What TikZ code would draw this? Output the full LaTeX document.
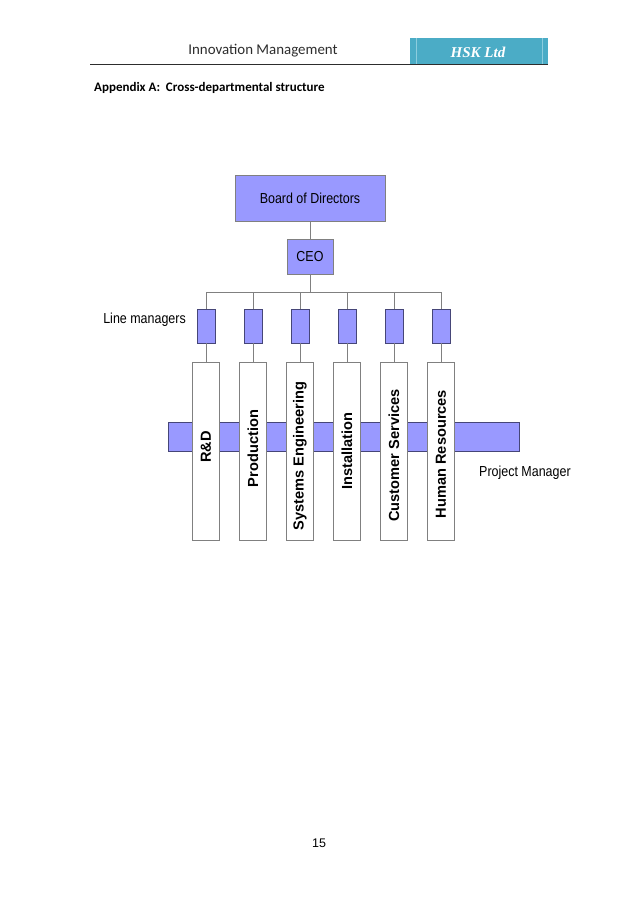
\documentclass[tikz,border=0pt]{standalone}
\usepackage{fontspec}
\setmainfont{Carlito}
\newfontfamily\visiofont[FakeStretch=0.86]{Liberation Sans}
\newfontfamily\deptfont{Liberation Sans}
\newfontfamily\firmfont{Liberation Serif}
\usetikzlibrary{positioning,calc}
\definecolor{VisioP} {RGB}{153,153,255}
\definecolor{EdgeG}  {RGB}{128,128,128}
\definecolor{EdgeB}  {RGB}{70,  70, 120}
\definecolor{TealH}  {RGB}{75, 172, 198}
\definecolor{TealL}  {RGB}{140,205, 222}
\definecolor{InkD}   {RGB}{45,  45,  45}

\begin{document}
\begin{tikzpicture}[x=1pt,y=-1pt,
    orgbox/.style={draw=EdgeG,fill=VisioP,line width=0.9pt,inner sep=0pt,
      font=\visiofont\fontsize{14.5}{16}\selectfont},
    mgrbox/.style={draw=EdgeB,fill=VisioP,line width=0.9pt,inner sep=0pt,
      minimum width=18pt,minimum height=34pt},
    deptbox/.style={draw=EdgeG,fill=white,line width=0.9pt,inner sep=0pt,
      minimum width=27pt,minimum height=178pt},
    deptlabel/.style={rotate=90,inner sep=0pt,
      font=\deptfont\bfseries\fontsize{14.6}{17}\selectfont},
    sidelabel/.style={inner sep=0pt,font=\visiofont\fontsize{14.5}{16}\selectfont},
    wire/.style={draw=EdgeG,line width=0.9pt}]
  \useasboundingbox[fill=white] (0,0) rectangle (638,903);
  % page header
  \fill[TealH] (410,38) rectangle (548,64);
  \draw[TealL,line width=0.5pt] (416,38)--(416,64) (542,38)--(542,64);
  \draw[InkD,line width=0.8pt] (90,64)--(548,64);
  \node[text=InkD,font=\fontsize{14.9}{17}\selectfont] (doctitle) at (263,51)
    {Innovation Management};
  \node[text=white,font=\firmfont\bfseries\itshape\fontsize{15}{17}\selectfont]
    (firm) at (478,52) {HSK Ltd};
  \node[anchor=west,inner sep=0pt,font=\bfseries\fontsize{13}{15}\selectfont]
    (appx) at (94,88) {Appendix A:\ \ Cross-departmental structure};

  % top of the chart
  \node[orgbox,minimum width=150pt,minimum height=46pt] (board) at (310,198)
    {Board of Directors};
  \node[orgbox,minimum width=46pt,minimum height=35pt] (ceo) at (310,256.5)
    {CEO};
  \draw[wire] (board.south) -- (ceo.north);
  \coordinate (bus) at (310,292);
  \draw[wire] (ceo.south) -- (bus);

  % project manager band, behind the departments
  \node[draw=EdgeB,fill=VisioP,line width=0.9pt,minimum width=351pt,
    minimum height=29pt] (pmband) at (343.5,436.5) {};

  \foreach \i/\x/\ly/\dept in {1/206/447/R\&D,2/253/448.5/Production,
                               3/300/456/Systems Engineering,4/347/451/Installation,
                               5/394/455.5/Customer Services,6/441/454/Human Resources}{
    \node[mgrbox] (lm\i) at (\x,326) {};
    \node[deptbox] (dept\i) at (\x,451) {};
    \node[deptlabel] (dname\i) at (\x,\ly) {\dept};
    \draw[wire] (lm\i.north) |- (bus);
    \draw[wire] (lm\i.south) -- (dept\i.north);
  }

  \node[sidelabel,anchor=east] (lmlabel) at (186,320) {Line managers};
  \node[sidelabel,anchor=west] (pmlabel) at (479,473) {Project Manager};

  % page number
  \node[font=\deptfont\fontsize{12.5}{14}\selectfont] (pageno) at (319,843) {15};
\end{tikzpicture}
\end{document}
